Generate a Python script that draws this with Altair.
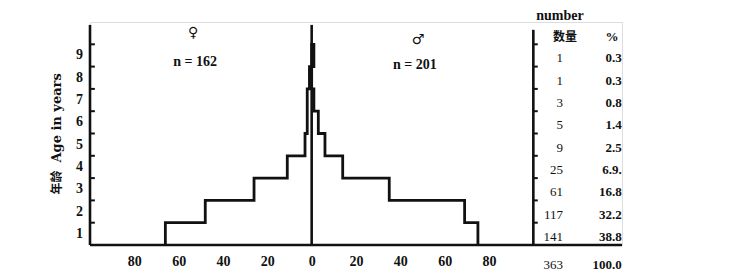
import altair as alt
import pandas as pd

# ---- data ----
age_bands = [1, 2, 3, 4, 5, 6, 7, 8, 9]          # age class labels (band k-1..k)
female = [66, 48, 26, 11, 3, 2, 2, 1, 0]           # counts per band, left side
male = [75, 69, 35, 14, 6, 3, 1, 0, 1]             # counts per band, right side
numbers = [141, 117, 61, 25, 9, 5, 3, 1, 1]        # 数量 column
percents = ["38.8", "32.2", "16.8", "6.9.", "2.5", "1.4", "0.8", "0.3", "0.3"]
total_number = "363"
total_percent = "100.0"
x_tick_values = [-80, -60, -40, -20, 0, 20, 40, 60, 80]
female_sign, female_n = "♀", "n = 162"
male_sign, male_n = "♂", "n = 201"
y_title_cn, y_title_en = "年龄", "Age in years"
header_number, header_count, header_pct = "number", "数量", "%"

SERIF = "Liberation Serif"
CJK = "Noto Sans CJK SC"

xs = alt.Scale(domain=[-100, 140], nice=False, zero=False)
ys = alt.Scale(domain=[0, 10], nice=False, zero=False)


def X(field="x"):
    return alt.X(f"{field}:Q", scale=xs, axis=alt.Axis(
        values=x_tick_values, labelExpr="abs(datum.value)", domain=False,
        ticks=False, grid=False, title=None, labelFont=SERIF, labelFontSize=14,
        labelFontWeight="bold", labelColor="#111", labelPadding=9))


def Y(field="y"):
    return alt.Y(f"{field}:Q", scale=ys, axis=None)


# outline of the pyramid
pts = []
for k in range(9):
    pts.append((-female[k], k))
    pts.append((-female[k], k + 1))
for k in range(8, -1, -1):
    pts.append((male[k], k + 1))
    pts.append((male[k], k))
outline_df = pd.DataFrame({"x": [p[0] for p in pts], "y": [p[1] for p in pts],
                           "o": list(range(len(pts)))})
outline = alt.Chart(outline_df).mark_line(color="#111", strokeWidth=2.8,
                                          strokeJoin="miter").encode(
    x=X(), y=Y(), order="o:Q")

# axes lines
rules_df = pd.DataFrame({
    "x": [-100, 0, 100, -100],
    "x2": [-100, 0, 100, 140],
    "y": [0, 0, 0, 0],
    "y2": [9.87, 9.87, 9.65, 0],
})
rules = alt.Chart(rules_df).mark_rule(color="#111", strokeWidth=2.6).encode(
    x=X(), x2="x2:Q", y=Y(), y2="y2:Q")

# ticks on both vertical axes (pointing inwards / right)
tick_rows = []
for a in age_bands:
    tick_rows.append({"x": -100, "x2": -97.8, "y": a})
    tick_rows.append({"x": 100, "x2": 102, "y": a})
ticks = alt.Chart(pd.DataFrame(tick_rows)).mark_rule(color="#111", strokeWidth=2).encode(
    x=X(), x2="x2:Q", y=Y())

# y labels
ylab_df = pd.DataFrame({"x": [-100] * 9, "y": [a - 0.5 for a in age_bands],
                        "t": [str(a) for a in age_bands]})
ylabels = alt.Chart(ylab_df).mark_text(align="right", baseline="middle", dx=-7,
                                       font=SERIF, fontSize=14, fontWeight="bold",
                                       color="#111").encode(x=X(), y=Y(), text="t:N")

# table columns
num_df = pd.DataFrame({"x": [113.4] * 9, "y": [a - 0.5 for a in age_bands],
                       "t": [str(n) for n in numbers]})
num_text = alt.Chart(num_df).mark_text(align="right", baseline="middle", dy=3,
                                       font=SERIF, fontSize=13, color="#111").encode(
    x=X(), y=Y(), text="t:N")
pct_df = pd.DataFrame({"x": [139.9] * 9, "y": [a - 0.5 for a in age_bands],
                       "t": percents})
pct_text = alt.Chart(pct_df).mark_text(align="right", baseline="middle", dy=3,
                                       font=SERIF, fontSize=13, fontWeight="bold",
                                       color="#111").encode(x=X(), y=Y(), text="t:N")


def label(text, x, y, align="center", font=SERIF, size=13, weight="bold", angle=0):
    df = pd.DataFrame({"x": [x], "y": [y], "t": [text]})
    return alt.Chart(df).mark_text(align=align, baseline="middle", font=font,
                                   fontSize=size, fontWeight=weight, angle=angle,
                                   color="#111").encode(x=X(), y=Y(), text="t:N")


annotations = [
    label(header_number, 112, 10.27, font=SERIF, size=14, weight="bold"),
    label(header_count, 114.3, 9.33, font=CJK, size=12, weight="bold"),
    label(header_pct, 135.5, 9.33, size=13, weight="bold"),
    label(total_number, 113.4, -0.9, align="right", size=13, weight="normal"),
    label(total_percent, 139.9, -0.9, align="right", size=13, weight="bold"),
    label(female_sign, -53.5, 9.5, font="DejaVu Sans", size=14, weight="bold"),
    label(female_n, -52.6, 8.2, size=14, weight="bold"),
    label(male_sign, 48, 9.2, font="DejaVu Sans", size=14, weight="bold"),
    label(male_n, 46.6, 8.07, size=14, weight="bold"),
    label(y_title_cn, -115, 2.8, font=CJK, size=12, weight="bold", angle=270),
    label(y_title_en, -115, 5.7, font="DejaVu Serif", size=13, weight="bold", angle=270),
]

chart = alt.layer(outline, rules, ticks, ylabels, num_text, pct_text, *annotations).properties(
    width=532, height=223,
    autosize=alt.AutoSizeParams(type="none"),
    padding={"left": 90, "top": 22, "right": 108, "bottom": 30},
).configure_view(stroke=None).configure(background="white")

chart.save("out.html", embed_options={"renderer": "svg", "actions": False})
